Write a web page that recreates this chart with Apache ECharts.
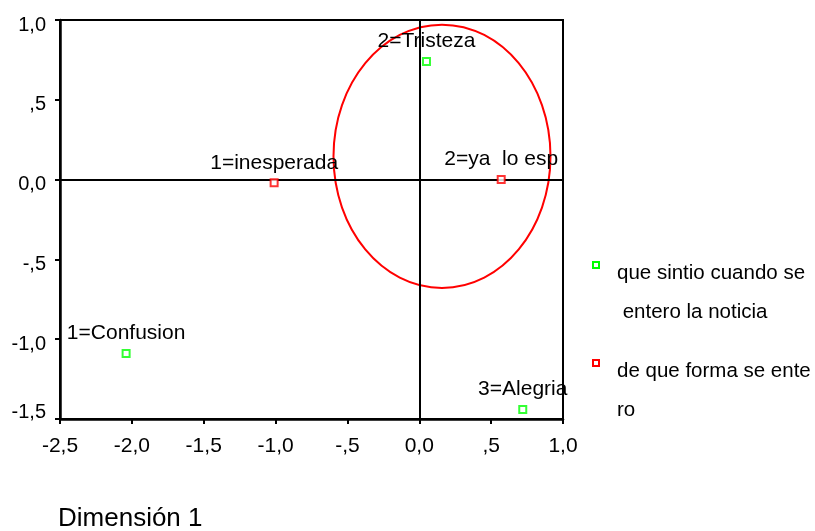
<!DOCTYPE html>
<html>
<head>
<meta charset="utf-8">
<script src="https://cdn.jsdelivr.net/npm/echarts@6/dist/echarts.min.js"></script>
<style>
html, body { margin: 0; padding: 0; background: #fff; }
#chart { width: 815px; height: 531px; }
</style>
</head>
<body>
<div id="chart"></div>
<script>
// Category points: "que sintio cuando se entero la noticia"
const feelingLabels = ['1=Confusion', '2=Tristeza', '3=Alegria'];
const feelingX = [-2.04, 0.05, 0.72];
const feelingY = [-1.09, 0.74, -1.44];

// Category points: "de que forma se entero"
const channelLabels = ['1=inesperada', '2=ya  lo esp'];
const channelX = [-1.01, 0.57];
const channelY = [-0.02, 0.00];

// Legend entries, as wrapped lines
const legendLines = [
  ['que sintio cuando se', ' entero la noticia'],
  ['de que forma se ente', 'ro']
];

// Highlight ellipse (centre and radii in data units)
const ellipseCenter = [0.158, 0.146];
const ellipseRadii = [0.755, 0.825];

// Axis ranges
const xRange = [-2.5, 1.0];
const yRange = [-1.5, 1.0];
const tickStep = 0.5;
const axisTitle = 'Dimensión 1';

const FONT = 'Liberation Sans, Arial, sans-serif';
const GREEN = '#00ff00';
const RED = '#ff0000';

// SPSS-style tick text: comma decimals, no leading zero below 1
function fmtTick(v) {
  const r = Math.round(v * 10) / 10;
  let s = Math.abs(r).toFixed(1).replace('.', ',');
  if (r !== 0 && Math.abs(r) < 1) s = s.replace(/^0/, '');
  return (r < 0 ? '-' : '') + s;
}

// y labels sit a little below their ticks; the bottom one is lifted above the axis
function fmtYTick(v) {
  const t = fmtTick(v);
  return Math.abs(v - yRange[0]) < 1e-9 ? '{lo|' + t + '}' : '{d|' + t + '}';
}

function points(labels, xs, ys) {
  return labels.map((n, i) => ({ name: n, value: [xs[i], ys[i]] }));
}

const pointLabel = {
  show: true,
  position: 'top',
  distance: 5,
  formatter: '{b}',
  fontSize: 21,
  fontFamily: FONT,
  fontWeight: 'normal',
  color: '#000',
  opacity: 1,
  textBorderWidth: 0
};

const legendGraphics = [];
[GREEN, RED].forEach((col, k) => {
  const baseY = k === 0 ? 273 : 371;
  legendGraphics.push({
    type: 'rect',
    shape: { x: 593, y: baseY - 11, width: 6, height: 6 },
    style: { fill: '#fff', stroke: col, lineWidth: 2 }
  });
  legendLines[k].forEach((line, j) => {
    legendGraphics.push({
      type: 'text',
      x: 617,
      y: baseY + j * 39,
      style: {
        text: line,
        font: '20.5px ' + FONT,
        fill: '#000',
        verticalAlign: 'middle'
      }
    });
  });
});

const chart = echarts.init(document.getElementById('chart'), null, { renderer: 'canvas' });

chart.setOption({
  animation: false,
  backgroundColor: '#fff',
  title: {
    text: axisTitle,
    left: 58,
    top: 506,
    padding: 0,
    textStyle: { fontSize: 26, fontWeight: 'normal', fontFamily: FONT, color: '#000' }
  },
  grid: {
    left: 60, top: 20, right: 252, bottom: 112,
    show: true, borderColor: '#000', borderWidth: 2, backgroundColor: '#fff'
  },
  xAxis: {
    type: 'value',
    min: xRange[0], max: xRange[1], interval: tickStep,
    axisLine: { onZero: false, lineStyle: { color: '#000', width: 2.5 } },
    axisTick: { length: 5, lineStyle: { color: '#000', width: 2 } },
    axisLabel: { fontSize: 21, fontFamily: FONT, color: '#000', margin: 17, formatter: fmtTick },
    splitLine: { show: false }
  },
  yAxis: {
    type: 'value',
    min: yRange[0], max: yRange[1], interval: tickStep,
    axisLine: { onZero: false, lineStyle: { color: '#000', width: 2.5 } },
    axisTick: { length: 5, lineStyle: { color: '#000', width: 2 } },
    axisLabel: {
      fontSize: 20, fontFamily: FONT, color: '#000', margin: 14,
      formatter: fmtYTick,
      rich: {
        d: { fontSize: 20, fontFamily: FONT, color: '#000', padding: [10, 0, 0, 0] },
        lo: { fontSize: 20, fontFamily: FONT, color: '#000', padding: [0, 0, 14, 0] }
      }
    },
    splitLine: { show: false }
  },
  graphic: legendGraphics,
  series: [
    {
      type: 'scatter',
      name: 'que sintio cuando se entero la noticia',
      symbol: 'rect',
      symbolSize: 7,
      itemStyle: { color: '#fff', borderColor: GREEN, borderWidth: 2 },
      label: pointLabel,
      data: points(feelingLabels, feelingX, feelingY),
      z: 5,
      markLine: {
        silent: true,
        symbol: 'none',
        label: { show: false },
        lineStyle: { color: '#000', width: 2, type: 'solid' },
        data: [{ xAxis: 0 }, { yAxis: 0 }]
      }
    },
    {
      type: 'scatter',
      name: 'de que forma se entero',
      symbol: 'rect',
      symbolSize: 7,
      itemStyle: { color: '#fff', borderColor: RED, borderWidth: 2 },
      label: pointLabel,
      data: points(channelLabels, channelX, channelY),
      z: 5
    },
    {
      type: 'custom',
      silent: true,
      z: 3,
      encode: { x: 0, y: 1 },
      data: [[ellipseCenter[0], ellipseCenter[1], ellipseRadii[0], ellipseRadii[1]]],
      renderItem: function (params, api) {
        const c = api.coord([api.value(0), api.value(1)]);
        const s = api.size([api.value(2), api.value(3)]);
        return {
          type: 'ellipse',
          shape: { cx: c[0], cy: c[1], rx: s[0], ry: s[1] },
          style: { fill: 'none', stroke: RED, lineWidth: 2 }
        };
      }
    }
  ]
});
</script>
</body>
</html>
